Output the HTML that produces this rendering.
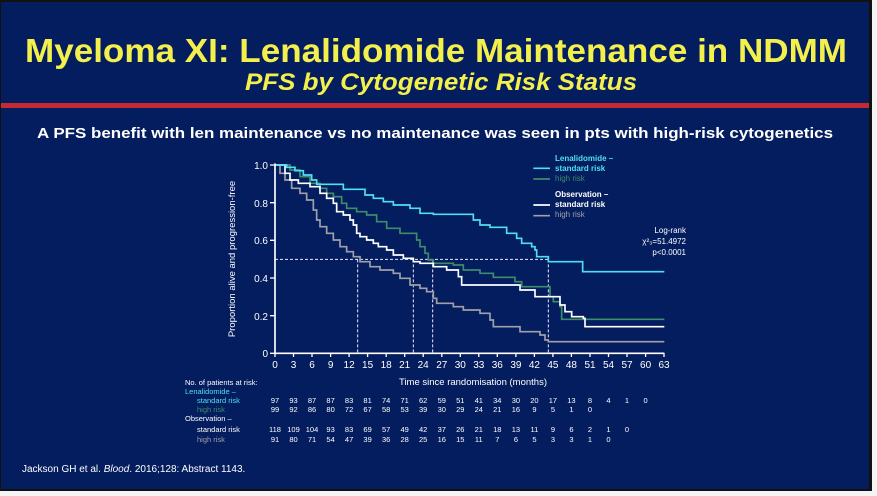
<!DOCTYPE html>
<html><head><meta charset="utf-8"><style>
html,body{margin:0;padding:0;background:#fff;}
svg{display:block;}
text{font-family:"Liberation Sans",Arial,sans-serif;}
</style></head><body>
<svg width="877" height="496" viewBox="0 0 877 496" xmlns="http://www.w3.org/2000/svg">
<rect x="0" y="0" width="877" height="496" fill="#f4f4f4"/>
<rect x="0" y="0" width="872" height="491" fill="#111"/>
<rect x="1" y="2" width="868" height="487" fill="#041d5e"/>
<rect x="1" y="103" width="868" height="5" fill="#c42a32"/>
<text x="436" y="62" text-anchor="middle" font-size="33" font-weight="bold" fill="#f3ef4c" textLength="822" lengthAdjust="spacingAndGlyphs">Myeloma XI: Lenalidomide Maintenance in NDMM</text>
<text x="441" y="90" text-anchor="middle" font-size="24" font-weight="bold" font-style="italic" fill="#f3ef4c" textLength="392" lengthAdjust="spacingAndGlyphs">PFS by Cytogenetic Risk Status</text>
<text x="435" y="138" text-anchor="middle" font-size="15" font-weight="bold" fill="#fff" textLength="796" lengthAdjust="spacingAndGlyphs">A PFS benefit with len maintenance vs no maintenance was seen in pts with high-risk cytogenetics</text>
<text x="22" y="472" font-size="10" fill="#fff">Jackson GH et al. <tspan font-style="italic">Blood</tspan>. 2016;128: Abstract 1143.</text>

<g transform="translate(220,150) scale(0.33333)" fill="none" stroke-width="5">
<!-- dashed -->
<g stroke="#e8e8ff" stroke-width="3" stroke-dasharray="9,6">
<path d="M165,328 H985 M413,328 V610 M580,328 V610 M638,328 V610 M985,328 V610"/>
</g>
<path stroke="#3d8c6c" d="M165,45 H210 V60 H240 V80 H270 V100 H300 V115 H320 V130 H340 V140 H365 V160 H380 V175 H410 V185 H440 V195 H470 V215 H500 V235 H540 V250 H590 V270 H600 V290 H615 V310 H625 V330 H640 V340 H700 V345 H730 V360 H780 V370 H820 V382 H885 V395 H905 V410 H990 V440 H1000 V455 H1020 V470 H1025 V508 H1333"/>
<path stroke="#a0a0a8" d="M165,45 H180 V70 H195 V90 H215 V115 H240 V130 H260 V150 H280 V180 H290 V210 H300 V230 H320 V250 H340 V270 H360 V290 H380 V305 H400 V320 H420 V335 H450 V350 H480 V360 H520 V370 H540 V385 H570 V405 H600 V415 H620 V425 H640 V445 H650 V460 H700 V470 H730 V480 H780 V490 H810 V510 H820 V530 H900 V545 H960 V555 H975 V570 H985 V575 H1333"/>
<path stroke="#ffffff" d="M165,45 H195 V70 H210 V90 H235 V100 H270 V110 H300 V130 H320 V145 H340 V160 H350 V185 H370 V195 H390 V210 H400 V225 H410 V250 H420 V260 H440 V270 H460 V280 H475 V290 H500 V300 H520 V315 H550 V325 H580 V335 H600 V340 H640 V350 H680 V360 H715 V380 H725 V405 H900 V420 H945 V440 H1020 V465 H1035 V485 H1055 V500 H1090 V505 H1095 V530 H1333"/>
<path stroke="#4fe0f0" d="M165,45 H200 V52 H225 V62 H250 V75 H275 V90 H290 V103 H370 V118 H435 V135 H460 V145 H490 V155 H520 V165 H570 V175 H600 V190 H640 V193 H760 V210 H780 V225 H810 V232 H860 V250 H890 V265 H905 V280 H935 V290 H945 V300 H950 V320 H985 V335 H1088 V365 H1333"/>
<!-- axes -->
<path stroke="#fff" stroke-width="5" d="M165,40 V610 H1333"/>
<path stroke="#fff" stroke-width="4" d="M150,45 H165 M150,158 H165 M150,271 H165 M150,384 H165 M150,497 H165 M150,610 H165"/>
<!-- legend -->
<path stroke="#4fe0f0" d="M940,55 H990"/>
<path stroke="#3d8c6c" d="M940,87 H990"/>
<path stroke="#fff" d="M940,165 H990"/>
<path stroke="#a0a0a8" d="M940,197 H990"/>
</g>
<g font-size="8.5">
<g stroke="#fff" stroke-width="1.3">
<path d="M275,353v4 M293.5,353v4 M312,353v4 M330.6,353v4 M349.1,353v4 M367.6,353v4 M386.2,353v4 M404.7,353v4 M423.2,353v4 M441.8,353v4 M460.3,353v4 M478.8,353v4 M497.3,353v4 M515.9,353v4 M534.4,353v4 M552.9,353v4 M571.4,353v4 M590,353v4 M608.5,353v4 M627,353v4 M645.6,353v4 M664,353v4"/>
</g>
<g fill="#fff" text-anchor="middle" font-size="10">
<text x="275" y="368">0</text><text x="293.5" y="368">3</text><text x="312" y="368">6</text><text x="330.6" y="368">9</text><text x="349.1" y="368">12</text><text x="367.6" y="368">15</text><text x="386.2" y="368">18</text><text x="404.7" y="368">21</text><text x="423.2" y="368">24</text><text x="441.8" y="368">27</text><text x="460.3" y="368">30</text><text x="478.8" y="368">33</text><text x="497.3" y="368">36</text><text x="515.9" y="368">39</text><text x="534.4" y="368">42</text><text x="552.9" y="368">45</text><text x="571.4" y="368">48</text><text x="590" y="368">51</text><text x="608.5" y="368">54</text><text x="627" y="368">57</text><text x="645.6" y="368">60</text><text x="664" y="368">63</text>
</g>
<g fill="#fff" text-anchor="end" font-size="10">
<text x="268" y="169">1.0</text><text x="268" y="207">0.8</text><text x="268" y="244">0.6</text><text x="268" y="282">0.4</text><text x="268" y="320">0.2</text><text x="268" y="357">0</text>
</g>
<text x="473" y="385" fill="#fff" font-size="9.5" text-anchor="middle">Time since randomisation (months)</text>
<text transform="translate(235,259) rotate(-90)" fill="#fff" font-size="9.5" text-anchor="middle">Proportion alive and progression-free</text>
<text x="555" y="161" fill="#4fe0f0" font-weight="bold" font-size="8">Lenalidomide –</text>
<text x="555" y="171" fill="#4fe0f0" font-weight="bold" font-size="8">standard risk</text>
<text x="555" y="181" fill="#3d8c6c" font-size="8">high risk</text>
<text x="555" y="197" fill="#fff" font-weight="bold" font-size="8">Observation –</text>
<text x="555" y="207" fill="#fff" font-weight="bold" font-size="8">standard risk</text>
<text x="555" y="217" fill="#a0a0a8" font-size="8">high risk</text>
<g fill="#fff" font-size="8" text-anchor="end">
<text x="686" y="233">Log-rank</text><text x="686" y="244">χ²₃=51.4972</text><text x="686" y="255">p&lt;0.0001</text>
</g>
<g font-size="7.5">
<text x="185" y="385" fill="#fff">No. of patients at risk:</text>
<text x="185" y="394" fill="#4fe0f0">Lenalidomide –</text>
<text x="197" y="403" fill="#4fe0f0">standard risk</text>
<text x="197" y="412" fill="#3d8c6c">high risk</text>
<text x="185" y="421" fill="#fff">Observation –</text>
<text x="197" y="432" fill="#fff">standard risk</text>
<text x="197" y="442" fill="#a0a0a8">high risk</text>
</g>
<g font-size="7.5" text-anchor="middle">
<g fill="#fff"><text y="403"><tspan x="275">97</tspan><tspan x="293.5">93</tspan><tspan x="312">87</tspan><tspan x="330.6">87</tspan><tspan x="349.1">83</tspan><tspan x="367.6">81</tspan><tspan x="386.2">74</tspan><tspan x="404.7">71</tspan><tspan x="423.2">62</tspan><tspan x="441.8">59</tspan><tspan x="460.3">51</tspan><tspan x="478.8">41</tspan><tspan x="497.3">34</tspan><tspan x="515.9">30</tspan><tspan x="534.4">20</tspan><tspan x="552.9">17</tspan><tspan x="571.4">13</tspan><tspan x="590">8</tspan><tspan x="608.5">4</tspan><tspan x="627">1</tspan><tspan x="645.6">0</tspan></text>
<text y="412"><tspan x="275">99</tspan><tspan x="293.5">92</tspan><tspan x="312">86</tspan><tspan x="330.6">80</tspan><tspan x="349.1">72</tspan><tspan x="367.6">67</tspan><tspan x="386.2">58</tspan><tspan x="404.7">53</tspan><tspan x="423.2">39</tspan><tspan x="441.8">30</tspan><tspan x="460.3">29</tspan><tspan x="478.8">24</tspan><tspan x="497.3">21</tspan><tspan x="515.9">16</tspan><tspan x="534.4">9</tspan><tspan x="552.9">5</tspan><tspan x="571.4">1</tspan><tspan x="590">0</tspan></text>
<text y="432"><tspan x="275">118</tspan><tspan x="293.5">109</tspan><tspan x="312">104</tspan><tspan x="330.6">93</tspan><tspan x="349.1">83</tspan><tspan x="367.6">69</tspan><tspan x="386.2">57</tspan><tspan x="404.7">49</tspan><tspan x="423.2">42</tspan><tspan x="441.8">37</tspan><tspan x="460.3">26</tspan><tspan x="478.8">21</tspan><tspan x="497.3">18</tspan><tspan x="515.9">13</tspan><tspan x="534.4">11</tspan><tspan x="552.9">9</tspan><tspan x="571.4">6</tspan><tspan x="590">2</tspan><tspan x="608.5">1</tspan><tspan x="627">0</tspan></text>
<text y="442"><tspan x="275">91</tspan><tspan x="293.5">80</tspan><tspan x="312">71</tspan><tspan x="330.6">54</tspan><tspan x="349.1">47</tspan><tspan x="367.6">39</tspan><tspan x="386.2">36</tspan><tspan x="404.7">28</tspan><tspan x="423.2">25</tspan><tspan x="441.8">16</tspan><tspan x="460.3">15</tspan><tspan x="478.8">11</tspan><tspan x="497.3">7</tspan><tspan x="515.9">6</tspan><tspan x="534.4">5</tspan><tspan x="552.9">3</tspan><tspan x="571.4">3</tspan><tspan x="590">1</tspan><tspan x="608.5">0</tspan></text></g>
</g>
</g>
</svg>
</body></html>
